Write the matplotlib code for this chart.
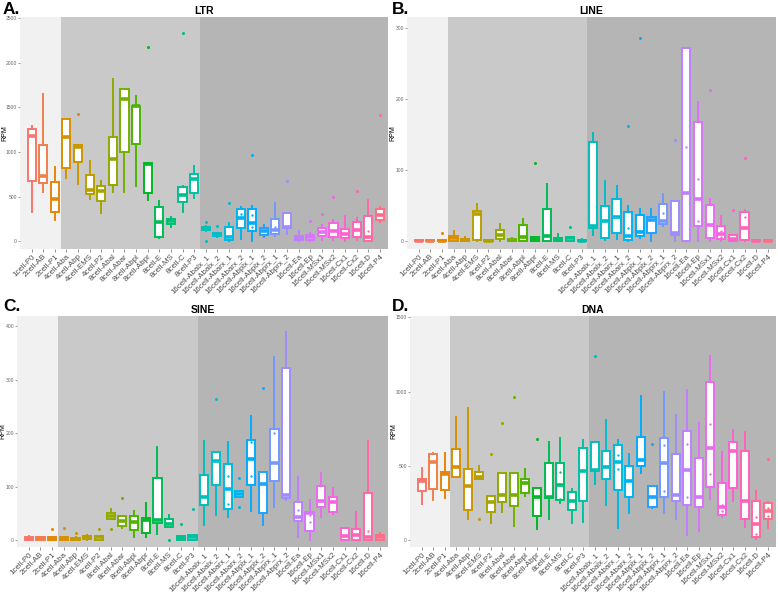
import numpy as np
import matplotlib
matplotlib.use("Agg")
import matplotlib.pyplot as plt

plt.rcParams['font.family'] = ['Liberation Sans', 'DejaVu Sans']

categories = ["1cell-P0", "2cell-AB", "2cell-P1", "4cell-Aba", "4cell-Abp", "4cell-EMS", "4cell-P2",
              "8cell-Abal", "8cell-Abar", "8cell-Abpl", "8cell-Abpr", "8cell-E", "8cell-MS", "8cell-C",
              "8cell-P3", "16cell-Abalx_1", "16cell-Abalx_2", "16cell-Abarx_1", "16cell-Abarx_2",
              "16cell-Abplx_1", "16cell-Abplx_2", "16cell-Abprx_1", "16cell-Abprx_2", "16cell-Ea",
              "16cell-Ep", "16cell-MSx1", "16cell-MSx2", "16cell-Cx1", "16cell-Cx2", "16cell-D", "16cell-P4"]
stage_sizes = [3, 12, 16]  # 1-2 cell, 4-8 cell, 16 cell

# ---------------- LTR ----------------
ltr_lo  = [330, 550, 240, 709, 641, 476, 322, 548, 548, 615, 465, 34, 165, 330, 484,
           120, 45, 2, 26, 0, 52, 60, 82, 5, 0, 15, 15, 0, 15, 0, 213]
ltr_q1  = [680, 650, 330, 821, 889, 529, 454, 626, 1005, 1091, 540, 52, 195, 437, 547,
           128, 60, 15, 150, 120, 71, 82, 146, 15, 15, 60, 52, 34, 45, 3, 239]
ltr_med = [1180, 730, 476, 1170, 1060, 570, 559, 922, 1590, 1515, 870, 221, 232, 520, 697,
           146, 71, 45, 260, 209, 116, 127, 164, 34, 45, 108, 116, 82, 127, 52, 295]
ltr_q3  = [1260, 1085, 664, 1370, 1085, 739, 615, 1170, 1702, 1522, 877, 390, 251, 612, 757,
           162, 90, 165, 360, 359, 146, 247, 321, 60, 71, 146, 209, 134, 220, 284, 362]
ltr_hi  = [1290, 1650, 829, 1375, 1085, 896, 679, 1815, 1710, 1627, 877, 454, 270, 620, 840,
           170, 95, 210, 388, 396, 183, 433, 321, 119, 90, 183, 239, 284, 258, 463, 388]
ltr_out = {5: [1429], 11: [2179], 14: [2340], 16: [213, 7], 17: [175], 18: [433], 20: [971],
           23: [679], 25: [228], 26: [302], 27: [493], 29: [567], 31: [1421]}
ltr_pts = {19: [302], 20: [299, 157], 22: [157], 30: [119]}

# ---------------- LINE ----------------
line_lo  = [0, 0, 0, 0, 0, 0, 0, 0, 0, 0, 0, 0, 0, 0, 0,
            9, 2, 3, 0, 5, 0, 22, 0, 0, 0.5, 0, 0, 0, 0, 0, 0]
line_q1  = [0.5, 0.3, 0.5, 1, 0.5, 2, 0, 3, 0.5, 1, 0.5, 1, 1, 1, 0.3,
            18, 4, 12, 2, 7.5, 11, 24, 9, 1, 21.5, 4, 3, 0.5, 2, 0.3, 0.3]
line_med = [1, 1, 1, 4, 2, 38, 1, 9, 1.5, 6.5, 3, 8, 3, 4, 1,
            22, 28.5, 34, 7.5, 12.6, 30, 28.5, 12, 68, 59, 23, 10, 3, 18, 1, 1]
line_q3  = [2, 1.5, 2, 8, 3, 43, 2, 16, 3, 23, 5.6, 46, 5, 6.5, 2.5,
            140, 50, 59, 41.6, 37, 34, 52, 57, 272, 167, 51, 21, 9, 40.7, 2, 2]
line_hi  = [2.5, 2, 2.5, 15, 5.6, 52, 2.5, 24, 4, 32, 5.6, 80, 10, 6.5, 3,
            152, 84, 78, 50, 46, 45, 66, 57, 272, 196, 60, 35, 9, 44, 2.5, 2.5]
line_out = {3: [12], 11: [110], 14: [20.6], 19: [162], 20: [285], 23: [142], 26: [213],
            28: [44], 29: [116.5]}
line_pts = {19: [18], 22: [40], 24: [132], 25: [88, 28], 27: [15, 6], 29: [33.7]}

# ---------------- SINE ----------------
sine_lo  = [0, 0, 0, 0, 0, 1, 0, 39, 22, 6, 5, 10.6, 25, 0, 0,
            28, 47, 44, 81, 54, 28, 62.5, 75, 6, 0, 44, 49, 0, 0, 0, 0]
sine_q1  = [0, 0, 0, 0, 0, 2.5, 0, 39, 26, 18, 12.5, 32.5, 25, 0, 0,
            65.6, 102.5, 59, 81, 104, 51, 110.6, 79, 36, 17.5, 61, 53, 1, 1, 0, 0]
sine_med = [2.5, 3, 3, 2.5, 2, 5.6, 5, 45, 36, 33, 37.5, 37.5, 30, 3, 6,
            80, 148.5, 95, 85.6, 151, 105, 145, 84, 44, 50, 74, 72, 7.5, 9, 5, 5]
sine_q3  = [5, 5, 5.6, 5, 4.4, 8, 8, 51, 45.6, 45, 40.6, 117, 39, 7.5, 9.4,
            122, 164, 142, 92.5, 187, 128, 207, 323, 72, 53, 102, 81, 22, 20.6, 87.5, 9.4]
sine_hi  = [7, 6, 6, 5.5, 5, 9.4, 8, 59, 45.6, 54, 70, 175, 47, 7.5, 9.4,
            185, 164, 183, 92.5, 232, 128, 343, 389, 117.5, 75, 126, 97, 22, 53, 185, 14]
sine_out = {3: [20], 4: [23], 5: [14], 7: [20.6], 8: [20.6], 9: [78], 13: [1], 14: [30],
            15: [59], 17: [265], 19: [117, 62.5], 21: [284]}
sine_pts = {18: [120, 67], 20: [183, 120], 22: [200], 24: [56, 25], 25: [47, 33],
            26: [74], 30: [17]}

# ---------------- DNA ----------------
dna_lo  = [244, 271, 287, 424, 141, 410, 114, 193, 99, 298, 74, 146, 249, 114, 121,
           379, 238, 81, 186, 451, 215, 182, 141, 36, 63, 276, 155, 267, 87, 7, 86]
dna_q1  = [332, 345, 339, 428, 204, 410, 193, 256, 231, 316, 164, 286, 271, 204, 267,
           464, 410, 339, 294, 500, 226, 294, 265, 238, 226, 361, 170, 350, 141, 25, 146]
dna_med = [401, 525, 446, 495, 365, 424, 256, 305, 305, 388, 289, 293, 372, 265, 466,
           473, 491, 529, 399, 540, 294, 518, 305, 473, 294, 619, 226, 603, 267, 108, 196]
dna_q3  = [413, 581, 462, 614, 480, 457, 298, 455, 455, 410, 350, 522, 518, 327, 623,
           659, 603, 641, 500, 697, 368, 686, 581, 735, 556, 1067, 383, 664, 601, 267, 248]
dna_hi  = [484, 590, 590, 832, 888, 502, 298, 455, 455, 480, 350, 664, 686, 345, 675,
           664, 809, 675, 581, 971, 368, 995, 843, 1011, 787, 1242, 596, 742, 726, 334, 259]
dna_out = {6: [143], 7: [578], 8: [787], 9: [966], 11: [682], 16: [1242], 21: [648], 31: [545]}
dna_pts = {13: [460, 280], 18: [575, 480], 22: [640, 330], 24: [650, 290], 26: [785, 445],
           27: [240, 200], 30: [160, 40], 31: [215, 165]}


def hcl_hex(h, c=100.0, l=65.0):
    hr = np.deg2rad(h)
    u, v = c * np.cos(hr), c * np.sin(hr)
    Xn, Yn, Zn = 95.047, 100.0, 108.883
    un = 4 * Xn / (Xn + 15 * Yn + 3 * Zn)
    vn = 9 * Yn / (Xn + 15 * Yn + 3 * Zn)
    Y = Yn * ((l + 16) / 116) ** 3 if l > 8 else Yn * l / 903.3
    up = u / (13 * l) + un
    vp = v / (13 * l) + vn
    X = 9.0 * Y * up / (4 * vp)
    Z = -X / 3 - 5 * Y + 3 * Y / vp
    M = np.array([[3.240479, -1.537150, -0.498535],
                  [-0.969256, 1.875992, 0.041556],
                  [0.055648, -0.204043, 1.057311]])
    rgb = M @ (np.array([X, Y, Z]) / 100.0)
    rgb = np.where(rgb > 0.0031308, 1.055 * np.abs(rgb) ** (1 / 2.4) - 0.055, 12.92 * rgb)
    rgb = np.clip(rgb, 0, 1)
    return tuple(rgb)


n = len(categories)
hues = np.linspace(15, 375 - 360 / n, n)
colors = [hcl_hex(h) for h in hues]

W, H = 778, 592
fig = plt.figure(figsize=(W / 100, H / 100), dpi=100)


def px_axes(l, r, t, b):
    return fig.add_axes([l / W, 1 - b / H, (r - l) / W, (b - t) / H])


# (title, letter, axes px box, ylim, yticks, data..., letter pos, title y, ylabel x)
panels = [
    ("LTR", "A.", (20, 388, 17, 249), (-86, 2514), [0, 500, 1000, 1500, 2000, 2500],
     ltr_lo, ltr_q1, ltr_med, ltr_q3, ltr_hi, ltr_out, ltr_pts, (3, 2), 11, 4.5),
    ("LINE", "B.", (407, 776, 17, 249), (-10.8, 315), [0, 100, 200, 300],
     line_lo, line_q1, line_med, line_q3, line_hi, line_out, line_pts, (392, 2), 11, 393),
    ("SINE", "C.", (17, 388, 316, 547), (-13, 419.5), [0, 100, 200, 300, 400],
     sine_lo, sine_q1, sine_med, sine_q3, sine_hi, sine_out, sine_pts, (3, 299), 310, 3),
    ("DNA", "D.", (410, 776, 316, 547), (-45, 1508), [0, 500, 1000, 1500],
     dna_lo, dna_q1, dna_med, dna_q3, dna_hi, dna_out, dna_pts, (392, 299), 310, 393.5),
]

bg_colors = ["#f1f1f1", "#c9c9c9", "#b5b5b5"]
xmax = n + 0.7

for (title, letter, (l, r, t, b), ylim, yticks, lo, q1, med, q3, hi, outs, pts,
     lpos, ty, ylx) in panels:
    ax = px_axes(l, r, t, b)
    edges = np.concatenate([[0], np.cumsum(stage_sizes) + 0.5])
    edges[-1] = xmax
    for k in range(3):
        ax.axvspan(edges[k], edges[k + 1], color=bg_colors[k], lw=0, zorder=0)
    for i in range(n):
        pos = i + 1
        c = colors[i]
        st = dict(whislo=lo[i], q1=q1[i], med=med[i], q3=q3[i], whishi=hi[i],
                  fliers=outs.get(pos, []))
        ax.bxp([st], positions=[pos], widths=0.7, patch_artist=True, showcaps=False,
               boxprops=dict(facecolor="white", edgecolor=c, linewidth=1.4),
               whiskerprops=dict(color=c, linewidth=1.4),
               medianprops=dict(color=c, linewidth=2.6, solid_capstyle="butt"),
               flierprops=dict(marker="o", markersize=2.2, markerfacecolor=c,
                               markeredgecolor="none"),
               manage_ticks=False, zorder=3)
        if pos in pts:
            ax.plot([pos] * len(pts[pos]), pts[pos], "o", ms=1.7, color=c,
                    mec="none", zorder=4)
    ax.set_xlim(0, xmax)
    ax.set_ylim(*ylim)
    ax.set_yticks(yticks)
    ax.set_yticklabels([str(v) for v in yticks])
    ax.set_xticks(np.arange(1, n + 1))
    ax.set_xticklabels(categories, rotation=45, ha="right", rotation_mode="anchor",
                       fontsize=5.7, color="#4d4d4d")
    ax.tick_params(axis="y", labelsize=3.6, labelcolor="#666666", length=1.5, width=0.5,
                   color="#777777", pad=0.6)
    ax.tick_params(axis="x", length=2, width=0.5, color="#666666", pad=1)
    for s in ax.spines.values():
        s.set_visible(False)
    fig.text(((l + r) / 2) / W, 1 - ty / H, title,
             ha="center", va="center", fontsize=7.5, fontweight="bold")
    fig.text(ylx / W, 1 - ((t + b) / 2) / H, "RPM",
             rotation=90, ha="center", va="center", fontsize=5)
    fig.text(lpos[0] / W, 1 - lpos[1] / H, letter, ha="left", va="top",
             fontsize=12.5, fontweight="bold")

fig.savefig("out.png", dpi=100)
